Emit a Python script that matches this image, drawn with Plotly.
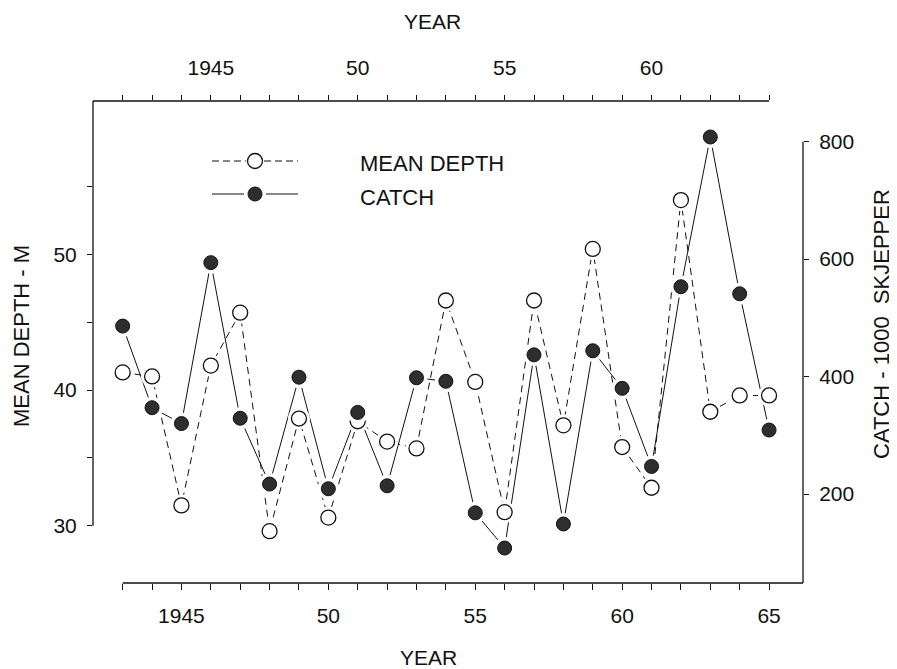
import plotly.graph_objects as go

# ---------------- data ----------------
years = list(range(1943, 1966))
mean_depth = [41.3, 41.0, 31.5, 41.8, 45.7, 29.6, 37.9, 30.6, 37.7, 36.2, 35.7, 46.6,
              40.6, 31.0, 46.6, 37.4, 50.4, 35.8, 32.8, 54.0, 38.4, 39.6, 39.6]
catch = [486, 347, 320, 594, 329, 217, 399, 209, 339, 214, 398, 392,
         168, 108, 437, 149, 444, 380, 247, 553, 808, 541, 309]

bottom_tickvals = list(range(1943, 1966))
bottom_ticklabels = {1945: "1945", 1950: "50", 1955: "55", 1960: "60", 1965: "65"}
top_tickvals = list(range(1942, 1965))
top_ticklabels = {1945: "1945", 1950: "50", 1955: "55", 1960: "60"}
left_tickvals = [30, 35, 40, 45, 50, 55]
left_ticklabels = {30: "30", 40: "40", 50: "50"}
right_tickvals = [200, 400, 600, 800]

# ---------------- geometry (page pixels) ----------------
OFF = 8                      # page body margin
PL, PR, PT, PB = 93, 803, 101, 583   # plot area on the page
W, H = 897 - OFF, 669 - OFF
ML, MT = PL - OFF, PT - OFF
MR, MB = W - (PR - OFF), H - (PB - OFF)
PW, PH = PR - PL, PB - PT

x_range = [1941.99, 1966.155]
x2_range = [1940.99, 1965.155]
y_range = [25.78, 61.30]
y2_range = [48.5, 869.3]

FONT = "Liberation Sans, Arial, sans-serif"
BLACK = "#111111"
FILL = "#2e2e2e"


def px(xp):
    return (xp - PL) / PW


def py(yp):
    return (PB - yp) / PH


fig = go.Figure()

# lines
fig.add_trace(go.Scatter(x=years, y=mean_depth, mode="lines", xaxis="x", yaxis="y",
                         line=dict(color=BLACK, width=1, dash="7px,5px"),
                         showlegend=False, hoverinfo="skip"))
fig.add_trace(go.Scatter(x=years, y=catch, mode="lines", xaxis="x", yaxis="y2",
                         line=dict(color=BLACK, width=1),
                         showlegend=False, hoverinfo="skip"))
# depth markers (with white halo)
fig.add_trace(go.Scatter(x=years, y=mean_depth, mode="markers", xaxis="x", yaxis="y3",
                         marker=dict(size=22, color="white", line=dict(width=0)),
                         showlegend=False, hoverinfo="skip"))
fig.add_trace(go.Scatter(x=years, y=mean_depth, mode="markers", xaxis="x", yaxis="y3",
                         marker=dict(size=15, color="white", line=dict(color=BLACK, width=1.3)),
                         name="MEAN DEPTH", showlegend=False))
# catch markers (with white halo)
fig.add_trace(go.Scatter(x=years, y=catch, mode="markers", xaxis="x", yaxis="y4",
                         marker=dict(size=22, color="white", line=dict(width=0)),
                         showlegend=False, hoverinfo="skip"))
fig.add_trace(go.Scatter(x=years, y=catch, mode="markers", xaxis="x", yaxis="y4",
                         marker=dict(size=14, color=FILL, line=dict(color=BLACK, width=1)),
                         name="CATCH", showlegend=False))

tickfont = dict(family=FONT, size=21, color=BLACK)

fig.update_layout(
    width=W, height=H, autosize=False,
    margin=dict(l=ML, r=MR, t=MT, b=MB, pad=0),
    paper_bgcolor="white", plot_bgcolor="white",
    showlegend=False,
    xaxis=dict(range=x_range, showgrid=False, zeroline=False, showline=False,
               tickmode="array", tickvals=bottom_tickvals,
               ticktext=[bottom_ticklabels.get(v, "") for v in bottom_tickvals],
               ticks="outside", ticklen=6, tickwidth=1, tickcolor=BLACK,
               tickfont=tickfont, ticklabelstandoff=8),
    xaxis2=dict(range=x2_range, overlaying="x", side="top", anchor="y",
                showgrid=False, zeroline=False, showline=False,
                tickmode="array", tickvals=top_tickvals,
                ticktext=[top_ticklabels.get(v, "") for v in top_tickvals],
                ticks="outside", ticklen=5, tickwidth=1, tickcolor=BLACK,
                tickfont=tickfont, ticklabelstandoff=12),
    yaxis=dict(range=y_range, showgrid=False, zeroline=False, showline=False,
               tickmode="array", tickvals=left_tickvals,
               ticktext=[left_ticklabels.get(v, "") for v in left_tickvals],
               ticks="outside", ticklen=5, tickwidth=1, tickcolor=BLACK,
               tickfont=tickfont, ticklabelstandoff=6),
    yaxis2=dict(range=y2_range, overlaying="y", side="right", anchor="x",
                showgrid=False, zeroline=False, showline=False,
                tickmode="array", tickvals=right_tickvals,
                ticktext=[str(v) for v in right_tickvals],
                ticks="outside", ticklen=5, tickwidth=1, tickcolor=BLACK,
                tickfont=tickfont, ticklabelstandoff=6),
    yaxis3=dict(range=y_range, overlaying="y", visible=False),
    yaxis4=dict(range=y2_range, overlaying="y", visible=False),
)

LW = 1.3
shapes = [
    # frame pieces
    dict(type="line", xref="x2", yref="paper", x0=x2_range[0], x1=1964, y0=1, y1=1,
         line=dict(color=BLACK, width=LW)),
    dict(type="line", xref="paper", yref="y", x0=0, x1=0, y0=30, y1=y_range[1],
         line=dict(color=BLACK, width=LW)),
    dict(type="line", xref="x", yref="paper", x0=1943, x1=x_range[1], y0=0, y1=0,
         line=dict(color=BLACK, width=LW)),
    dict(type="line", xref="paper", yref="y2", x0=1, x1=1, y0=y2_range[0], y1=800,
         line=dict(color=BLACK, width=LW)),
    # legend samples
    dict(type="line", xref="paper", yref="paper", x0=px(212), x1=px(246), y0=py(161), y1=py(161),
         line=dict(color=BLACK, width=1, dash="7px,4px")),
    dict(type="line", xref="paper", yref="paper", x0=px(264), x1=px(298), y0=py(161), y1=py(161),
         line=dict(color=BLACK, width=1, dash="7px,4px")),
    dict(type="circle", xref="paper", yref="paper", xsizemode="pixel", ysizemode="pixel",
         xanchor=px(255), yanchor=py(161), x0=-7.5, x1=7.5, y0=-7.5, y1=7.5,
         fillcolor="white", line=dict(color=BLACK, width=1.3)),
    dict(type="line", xref="paper", yref="paper", x0=px(212), x1=px(244), y0=py(194), y1=py(194),
         line=dict(color=BLACK, width=1)),
    dict(type="line", xref="paper", yref="paper", x0=px(266), x1=px(298), y0=py(194), y1=py(194),
         line=dict(color=BLACK, width=1)),
    dict(type="circle", xref="paper", yref="paper", xsizemode="pixel", ysizemode="pixel",
         xanchor=px(255), yanchor=py(194), x0=-7, x1=7, y0=-7, y1=7,
         fillcolor=FILL, line=dict(color=BLACK, width=1)),
]
fig.update_layout(shapes=shapes)

tfont = dict(family=FONT, size=21, color=BLACK)
annotations = [
    dict(text="YEAR", xref="paper", yref="paper", x=px(432), y=py(22),
         xanchor="center", yanchor="middle", showarrow=False, font=tfont),
    dict(text="YEAR", xref="paper", yref="paper", x=px(428), y=py(657),
         xanchor="center", yanchor="middle", showarrow=False, font=tfont),
    dict(text="MEAN DEPTH - M", xref="paper", yref="paper", x=px(21), y=py(336),
         xanchor="center", yanchor="middle", textangle=-90, showarrow=False,
         font=dict(family=FONT, size=22, color=BLACK)),
    dict(text="CATCH - 1000  SKJEPPER", xref="paper", yref="paper", x=px(881), y=py(324),
         xanchor="center", yanchor="middle", textangle=-90, showarrow=False,
         font=dict(family=FONT, size=22, color=BLACK)),
    dict(text="MEAN DEPTH", xref="paper", yref="paper", x=px(358), y=py(163),
         xanchor="left", yanchor="middle", showarrow=False,
         font=dict(family=FONT, size=22, color=BLACK)),
    dict(text="CATCH", xref="paper", yref="paper", x=px(358), y=py(198),
         xanchor="left", yanchor="middle", showarrow=False,
         font=dict(family=FONT, size=22, color=BLACK)),
]
fig.update_layout(annotations=annotations)

fig.write_html("out.html")
